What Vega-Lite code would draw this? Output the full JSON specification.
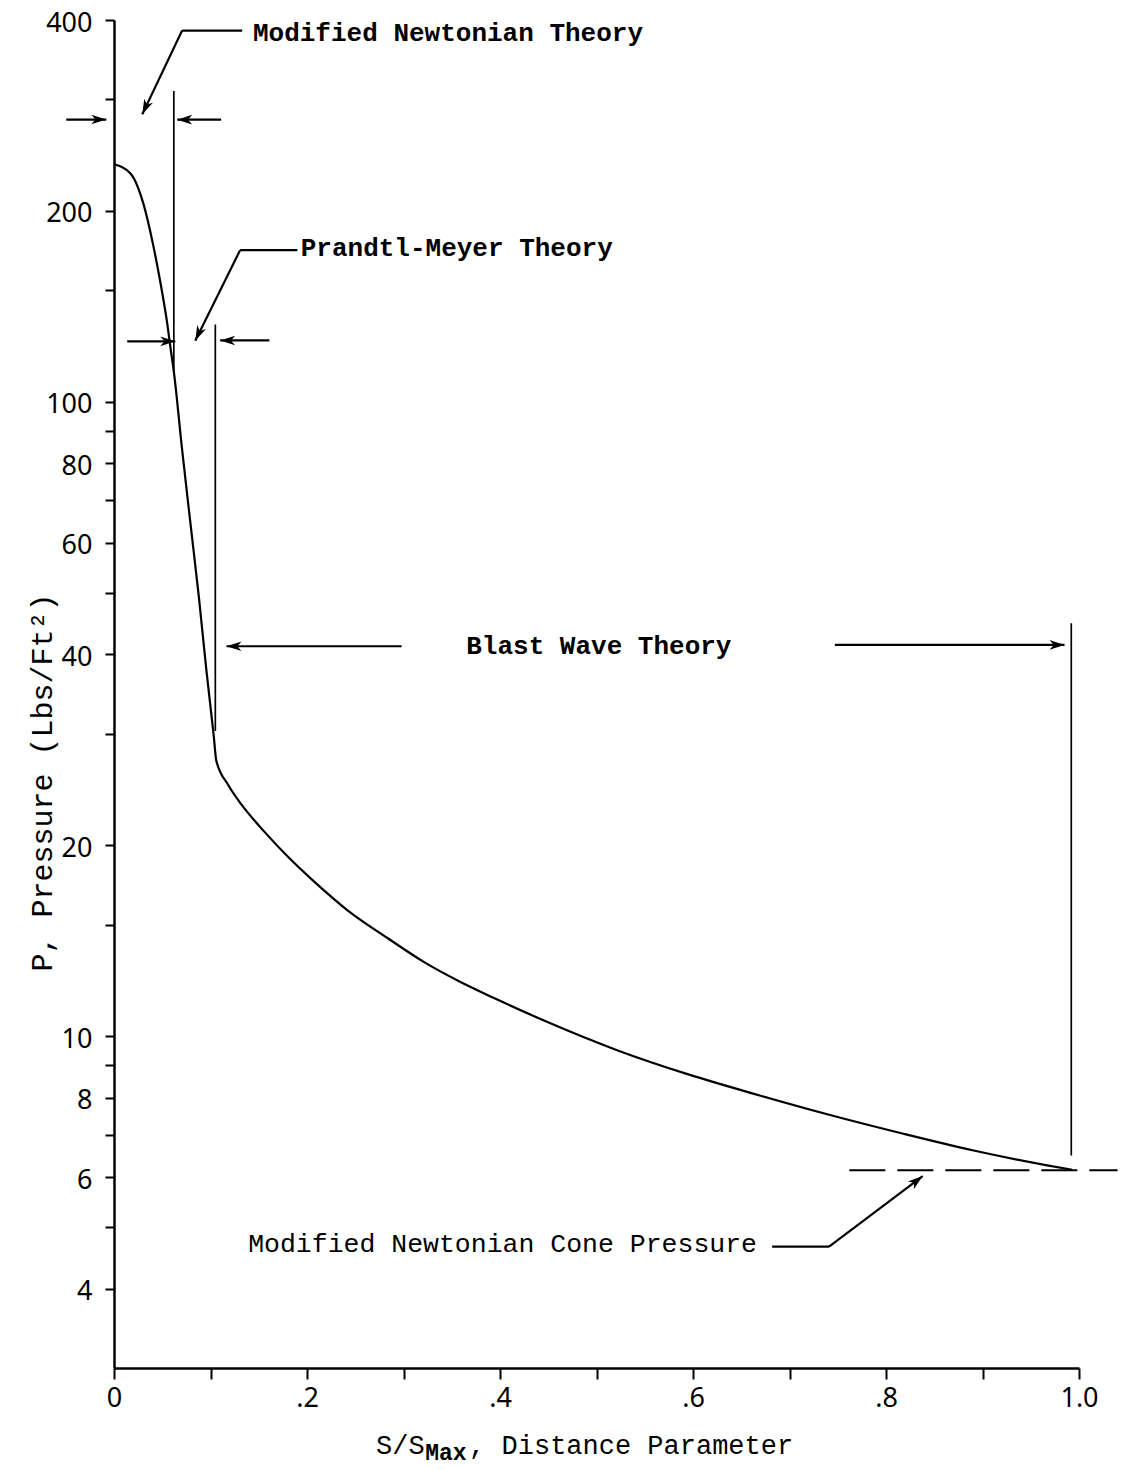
{
  "$schema": "https://vega.github.io/schema/vega-lite/v6.json",
  "autosize": "none",
  "width": 965,
  "height": 1348,
  "padding": {"left": 114, "top": 20, "right": 44, "bottom": 102},
  "background": "white",
  "config": {"view": {"stroke": null}, "font": "Liberation Mono"},
  "datasets": {
    "curve": [
      {"s": 0.0, "p": 237},
      {"s": 0.0173, "p": 229},
      {"s": 0.0306, "p": 205},
      {"s": 0.0405, "p": 177},
      {"s": 0.0485, "p": 153},
      {"s": 0.0553, "p": 132.5},
      {"s": 0.0583, "p": 122.5},
      {"s": 0.0622, "p": 111},
      {"s": 0.0706, "p": 84},
      {"s": 0.0794, "p": 64},
      {"s": 0.0881, "p": 49},
      {"s": 0.0957, "p": 37.8},
      {"s": 0.1033, "p": 29.8},
      {"s": 0.106, "p": 27.2},
      {"s": 0.1184, "p": 24.9},
      {"s": 0.132, "p": 23.2},
      {"s": 0.156, "p": 21.0},
      {"s": 0.18, "p": 19.2},
      {"s": 0.208, "p": 17.5},
      {"s": 0.242, "p": 15.8},
      {"s": 0.283, "p": 14.3},
      {"s": 0.321, "p": 13.1},
      {"s": 0.358, "p": 12.2},
      {"s": 0.396, "p": 11.45},
      {"s": 0.448, "p": 10.55},
      {"s": 0.522, "p": 9.5},
      {"s": 0.596, "p": 8.7},
      {"s": 0.67, "p": 8.06},
      {"s": 0.744, "p": 7.5},
      {"s": 0.818, "p": 7.02},
      {"s": 0.892, "p": 6.6},
      {"s": 0.967, "p": 6.26},
      {"s": 0.993, "p": 6.16}
    ],
    "bounds": [
      {"theory": "Modified Newtonian", "s": 0.062, "p": 111.6, "p2": 309},
      {"theory": "Prandtl-Meyer", "s": 0.105, "p": 30.3, "p2": 132.4},
      {"theory": "Blast Wave", "s": 0.992, "p": 6.49, "p2": 44.8}
    ],
    "leaders": [
      {"s": 0.0706, "s2": 0.1328, "p": 385, "p2": 385},
      {"s": 0.0706, "s2": 0.0293, "p": 385, "p2": 284},
      {"s": -0.0495, "s2": -0.008, "p": 278.7, "p2": 278.7},
      {"s": 0.111, "s2": 0.0655, "p": 278.6, "p2": 278.6},
      {"s": 0.0137, "s2": 0.0635, "p": 124.6, "p2": 124.6},
      {"s": 0.1307, "s2": 0.19, "p": 173.5, "p2": 173.5},
      {"s": 0.1307, "s2": 0.0842, "p": 173.5, "p2": 124.9},
      {"s": 0.161, "s2": 0.11, "p": 125, "p2": 125},
      {"s": 0.298, "s2": 0.1166, "p": 41.2, "p2": 41.2},
      {"s": 0.747, "s2": 0.985, "p": 41.4, "p2": 41.4},
      {"s": 0.682, "s2": 0.741, "p": 4.66, "p2": 4.66},
      {"s": 0.741, "s2": 0.838, "p": 4.66, "p2": 6.02}
    ],
    "heads": [
      {"s": 0.0293, "p": 284, "dir": "downleft"},
      {"s": -0.008, "p": 278.7, "dir": "right"},
      {"s": 0.0655, "p": 278.6, "dir": "left"},
      {"s": 0.0635, "p": 124.6, "dir": "right"},
      {"s": 0.0842, "p": 124.9, "dir": "downleft"},
      {"s": 0.11, "p": 125, "dir": "left"},
      {"s": 0.1166, "p": 41.2, "dir": "left"},
      {"s": 0.985, "p": 41.4, "dir": "right"},
      {"s": 0.838, "p": 6.02, "dir": "upright"}
    ],
    "cone": [
      {"s": 0.762, "s2": 1.04, "p": 6.15}
    ],
    "theories": [
      {"label": "Modified Newtonian Theory", "s": 0.144, "p": 381},
      {"label": "Prandtl-Meyer Theory", "s": 0.1935, "p": 174.6},
      {"label": "Blast Wave Theory", "s": 0.365, "p": 41.2}
    ],
    "coneLabel": [
      {"label": "Modified Newtonian Cone Pressure", "s": 0.139, "p": 4.7}
    ],
    "xTitle": [
      {"label": "S/S", "s": 0.2715, "p": 2.26},
      {"label": ", Distance Parameter", "s": 0.368, "p": 2.26}
    ],
    "xTitleSub": [
      {"label": "Max", "s": 0.3225, "p": 2.2}
    ]
  },
  "encoding": {
    "x": {
      "field": "s",
      "type": "quantitative",
      "scale": {"domain": [0, 1], "nice": false, "zero": false},
      "axis": {
        "title": null,
        "values": [0, 0.1, 0.2, 0.3, 0.4, 0.5, 0.6, 0.7, 0.8, 0.9, 1.0],
        "labelExpr": "datum.value == 0 ? '0' : datum.value == 1 ? '1.0' : (round(datum.value * 10) % 2 == 0 ? '.' + round(datum.value * 10) : '')",
        "labelFont": "Noto Sans",
        "labelFontSize": 27,
        "labelColor": "black",
        "labelPadding": 6,
        "labelFlush": false,
        "grid": false,
        "domainColor": "black",
        "domainWidth": 2.5,
        "tickColor": "black",
        "tickWidth": 2,
        "tickSize": 11
      }
    },
    "y": {
      "field": "p",
      "type": "quantitative",
      "scale": {"type": "log", "domain": [3, 400], "nice": false},
      "axis": {
        "title": "P, Pressure (Lbs/Ft²)",
        "titleFont": "Liberation Mono",
        "titleFontSize": 30,
        "titleFontWeight": "normal",
        "titleColor": "black",
        "titleAngle": 270,
        "titleAlign": "center",
        "titleBaseline": "alphabetic",
        "titleX": -63,
        "titleY": 762,
        "values": [4, 5, 6, 7, 8, 9, 10, 15, 20, 30, 40, 50, 60, 70, 80, 90, 100, 150, 200, 300, 400],
        "format": "d",
        "labelExpr": "indexof([4, 6, 8, 10, 20, 40, 60, 80, 100, 200, 400], datum.value) >= 0 ? datum.label : ''",
        "labelFont": "Noto Sans",
        "labelFontSize": 27,
        "labelColor": "black",
        "labelPadding": 13,
        "labelOffset": 3,
        "grid": false,
        "domainColor": "black",
        "domainWidth": 2.5,
        "tickColor": "black",
        "tickWidth": 2,
        "tickSize": 9
      }
    }
  },
  "layer": [
    {
      "data": {"name": "curve"},
      "mark": {"type": "line", "color": "black", "strokeWidth": 2.2, "interpolate": "monotone"}
    },
    {
      "data": {"name": "bounds"},
      "mark": {"type": "rule", "color": "black", "strokeWidth": 1.7},
      "encoding": {"y2": {"field": "p2"}}
    },
    {
      "data": {"name": "leaders"},
      "mark": {"type": "rule", "color": "black", "strokeWidth": 2.2},
      "encoding": {"x2": {"field": "s2"}, "y2": {"field": "p2"}}
    },
    {
      "data": {"name": "cone"},
      "mark": {"type": "rule", "color": "black", "strokeWidth": 2, "strokeDash": [36, 12]},
      "encoding": {"x2": {"field": "s2"}}
    },
    {
      "data": {"name": "heads"},
      "transform": [{"filter": "datum.dir == 'right'"}],
      "mark": {"type": "point", "shape": "M0,0L-0.32,1L0,0.72L0.32,1Z", "filled": true, "color": "black", "opacity": 1, "size": 900, "angle": 90}
    },
    {
      "data": {"name": "heads"},
      "transform": [{"filter": "datum.dir == 'left'"}],
      "mark": {"type": "point", "shape": "M0,0L-0.32,1L0,0.72L0.32,1Z", "filled": true, "color": "black", "opacity": 1, "size": 900, "angle": 270}
    },
    {
      "data": {"name": "heads"},
      "transform": [{"filter": "datum.dir == 'downleft'"}],
      "mark": {"type": "point", "shape": "M0,0L-0.32,1L0,0.72L0.32,1Z", "filled": true, "color": "black", "opacity": 1, "size": 900, "angle": 205}
    },
    {
      "data": {"name": "heads"},
      "transform": [{"filter": "datum.dir == 'upright'"}],
      "mark": {"type": "point", "shape": "M0,0L-0.32,1L0,0.72L0.32,1Z", "filled": true, "color": "black", "opacity": 1, "size": 900, "angle": 52}
    },
    {
      "data": {"name": "theories"},
      "mark": {"type": "text", "align": "left", "baseline": "middle", "font": "Liberation Mono", "fontSize": 26, "fontWeight": "bold", "color": "black"},
      "encoding": {"text": {"field": "label"}}
    },
    {
      "data": {"name": "coneLabel"},
      "mark": {"type": "text", "align": "left", "baseline": "middle", "font": "Liberation Mono", "fontSize": 26.5, "color": "black"},
      "encoding": {"text": {"field": "label"}}
    },
    {
      "data": {"name": "xTitle"},
      "mark": {"type": "text", "align": "left", "baseline": "middle", "font": "Liberation Mono", "fontSize": 27, "color": "black"},
      "encoding": {"text": {"field": "label"}}
    },
    {
      "data": {"name": "xTitleSub"},
      "mark": {"type": "text", "align": "left", "baseline": "middle", "font": "Liberation Mono", "fontSize": 23, "fontWeight": "bold", "color": "black"},
      "encoding": {"text": {"field": "label"}}
    }
  ]
}
